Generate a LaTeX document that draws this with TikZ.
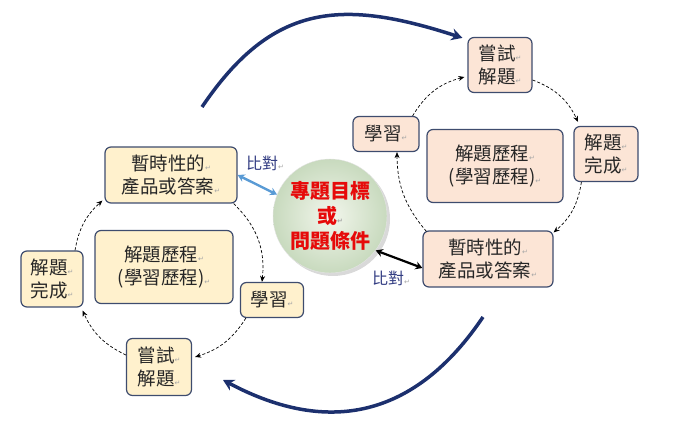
\documentclass[tikz,border=0pt]{standalone}
\usepackage{fontspec}
\setmainfont{Noto Sans CJK TC}
\newfontfamily\dejavu{DejaVu Sans}
\usetikzlibrary{arrows.meta,shadows}
\definecolor{boxborder}{RGB}{62,76,110}
\definecolor{creamfill}{RGB}{255,241,205}
\definecolor{peachfill}{RGB}{252,229,214}
\definecolor{navyarc}{RGB}{28,48,110}
\definecolor{cmpblue}{RGB}{50,60,130}
\definecolor{lightblue}{RGB}{90,155,213}
\definecolor{circred}{RGB}{230,10,10}
\definecolor{circin}{RGB}{242,246,236}
\definecolor{circout}{RGB}{200,218,190}
\newcommand{\retmark}{{\dejavu\fontsize{7}{7}\selectfont\color{gray!70}↵}}
\tikzset{
  stepbox/.style={draw=boxborder, line width=1.2pt, rounded corners=6pt, align=center,
    font=\fontsize{18.5}{23}\selectfont, inner sep=1pt, text=black!85},
  leftbox/.style={stepbox, fill=creamfill},
  rightbox/.style={stepbox, fill=peachfill},
  cyclearrow/.style={densely dashed, line width=0.7pt, -{Stealth[length=6pt,width=5pt]}},
  bigarc/.style={navyarc, line width=3.5pt, -{Stealth[length=11pt,width=12pt]}},
  cmplabel/.style={text=cmpblue, font=\fontsize{16}{16}\selectfont, inner sep=0pt},
}
\begin{document}
\begin{tikzpicture}[x=1pt,y=1pt]
\useasboundingbox (0,0) rectangle (674,444);
% left cycle
\node[leftbox, minimum width=132pt, minimum height=56pt] (Lprod) at (171,269) {暫時性的\retmark\\產品或答案\retmark};
\node[leftbox, minimum width=138pt, minimum height=73pt] (Lproc) at (164,177) {解題歷程\retmark\\(學習歷程)\retmark};
\node[leftbox, minimum width=62pt, minimum height=56pt] (Ldone) at (52,165) {解題\retmark\\完成\retmark};
\node[leftbox, minimum width=63pt, minimum height=35pt] (Llearn) at (272,144) {學習\retmark};
\node[leftbox, minimum width=65pt, minimum height=57pt] (Ltry) at (159,77) {嘗試\retmark\\解題\retmark};
% right cycle
\node[rightbox, minimum width=64pt, minimum height=55pt] (Rtry) at (500,379) {嘗試\retmark\\解題\retmark};
\node[rightbox, minimum width=66pt, minimum height=35pt] (Rlearn) at (386,310) {學習\retmark};
\node[rightbox, minimum width=64pt, minimum height=55pt] (Rdone) at (606,290) {解題\retmark\\完成\retmark};
\node[rightbox, minimum width=136pt, minimum height=73pt] (Rproc) at (495,278) {解題歷程\retmark\\(學習歷程)\retmark};
\node[rightbox, minimum width=130pt, minimum height=56pt] (Rprod) at (488,185) {暫時性的\retmark\\產品或答案\retmark};
% centre circle
\node[circle, minimum size=114pt, inner sep=0pt, draw=gray!20, line width=0.4pt,
  inner color=circin, outer color=circout,
  drop shadow={opacity=0.3, shadow xshift=3pt, shadow yshift=-3pt},
  align=center, text=circred, font=\fontsize{20}{25}\bfseries\selectfont] (goal) at (330,228)
  {專題目標\\或\retmark\\問題條件};
% compare labels
\node[cmplabel] (cmpL) at (265,281) {比對\retmark};
\node[cmplabel] (cmpR) at (391,166) {比對\retmark};
% compare arrows
\draw[lightblue, line width=2.4pt, {Stealth[length=7pt,width=8pt]}-{Stealth[length=7pt,width=8pt]}] (Lprod.east) -- (goal.158);
\draw[black, line width=2.2pt, {Stealth[length=7pt,width=8pt]}-{Stealth[length=7pt,width=8pt]}] (goal.-37) -- ([yshift=-9pt]Rprod.west);
% left cycle arrows
\draw[cyclearrow] ([xshift=-4pt]Lprod.south east) to[bend left=26] ([xshift=-10pt]Llearn.north);
\draw[cyclearrow] ([xshift=6pt]Llearn.south west) to[bend left=20] ([yshift=10pt,xshift=3pt]Ltry.east);
\draw[cyclearrow] ([yshift=12pt]Ltry.west) to[bend left=20] ([xshift=-1pt,yshift=-3pt]Ldone.south east);
\draw[cyclearrow] ([xshift=23pt]Ldone.north) to[bend left=19] ([xshift=-2pt,yshift=3pt]Lprod.south west);
% right cycle arrows
\draw[cyclearrow] ([xshift=-7pt]Rlearn.north east) to[bend left=22] ([yshift=-12pt,xshift=-3pt]Rtry.west);
\draw[cyclearrow] ([yshift=-15pt]Rtry.east) to[bend left=22] ([xshift=-28pt,yshift=4pt]Rdone.north);
\draw[cyclearrow] ([xshift=8pt]Rdone.south west) to[bend left=20] ([yshift=-2pt]Rprod.north east);
\draw[cyclearrow] ([xshift=4pt,yshift=-1pt]Rprod.north west) to[bend left=20] ([xshift=11pt]Rlearn.south);
% big arcs
\coordinate (arcTopStart) at (202,337);
\coordinate (arcBotStart) at (483,127);
\coordinate (arcBotEnd) at (223,64);
\draw[bigarc] (arcTopStart) to[out=56,in=162,looseness=1.2] ([xshift=-5pt,yshift=-1pt]Rtry.north west);
\draw[bigarc] (arcBotStart) to[out=236,in=-28,looseness=1.15] (arcBotEnd);
\end{tikzpicture}
\end{document}
